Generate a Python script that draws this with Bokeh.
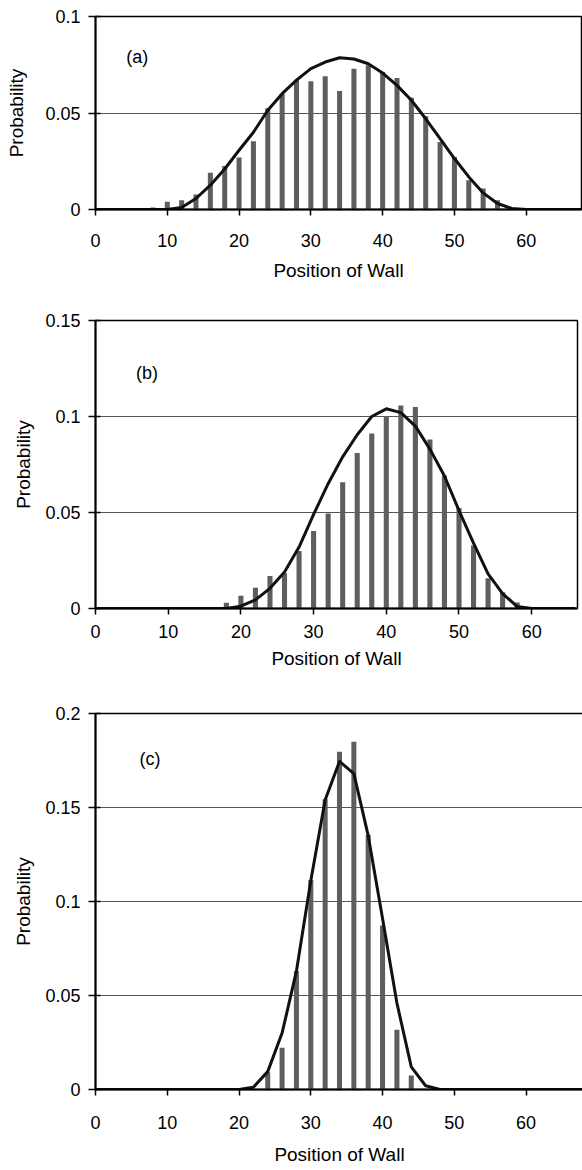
from bokeh.plotting import figure
from bokeh.layouts import column
from bokeh.models import Range1d, FixedTicker, CustomJSTickFormatter, Label
from bokeh.embed import file_html
from bokeh.resources import INLINE

FONT = "Liberation Sans"

# ---- (a) ----
pos_a = [8, 10, 12, 14, 16, 18, 20, 22, 24, 26, 28, 30, 32, 34, 36, 38, 40,
         42, 44, 46, 48, 50, 52, 54, 56]
prob_a = [0.001, 0.004, 0.0048, 0.0078, 0.019, 0.0226, 0.027, 0.0353, 0.0525,
          0.060, 0.0672, 0.0664, 0.0691, 0.0614, 0.0729, 0.0747, 0.0712,
          0.0681, 0.0579, 0.0483, 0.035, 0.0272, 0.0152, 0.0109, 0.0048]
curve_x_a = list(range(0, 70, 2))
curve_a = [0, 0, 0, 0, 0, 0, 0.001, 0.0057, 0.0126, 0.021, 0.0307, 0.040,
           0.0514, 0.060, 0.067, 0.073, 0.0764, 0.0786, 0.078, 0.0755, 0.0707,
           0.0643, 0.0566, 0.047, 0.0367, 0.0264, 0.0169, 0.0086, 0.0031,
           0.0005, 0, 0, 0, 0, 0]

# ---- (b) ----
pos_b = [18, 20, 22, 24, 26, 28, 30, 32, 34, 36, 38, 40, 42, 44, 46, 48, 50,
         52, 54, 56, 58]
prob_b = [0.003, 0.0066, 0.0108, 0.0169, 0.0183, 0.030, 0.0404, 0.0495,
          0.0657, 0.081, 0.0911, 0.1002, 0.1057, 0.1049, 0.088, 0.0693,
          0.0523, 0.0328, 0.0157, 0.0084, 0.0031]
curve_x_b = list(range(0, 68, 2))
curve_b = [0, 0, 0, 0, 0, 0, 0, 0, 0, 0, 0.0012, 0.0045, 0.0105, 0.019,
           0.032, 0.049, 0.065, 0.079, 0.0905, 0.100, 0.104, 0.102, 0.095,
           0.083, 0.069, 0.051, 0.034, 0.018, 0.0078, 0.001, 0, 0, 0, 0]

# ---- (c) ----
pos_c = [24, 26, 28, 30, 32, 34, 36, 38, 40, 42, 44]
prob_c = [0.0092, 0.0222, 0.063, 0.1114, 0.1544, 0.1796, 0.185, 0.1355,
          0.0872, 0.0318, 0.0075]
curve_x_c = list(range(0, 70, 2))
curve_c = [0, 0, 0, 0, 0, 0, 0, 0, 0, 0, 0, 0.0012, 0.0095, 0.030, 0.063,
           0.111, 0.154, 0.1745, 0.168, 0.135, 0.091, 0.046, 0.012, 0.002,
           0, 0, 0, 0, 0, 0, 0, 0, 0, 0, 0]

x_ticks = [0, 10, 20, 30, 40, 50, 60]
y_ticks_a = [0, 0.05, 0.1]
y_ticks_b = [0, 0.05, 0.1, 0.15]
y_ticks_c = [0, 0.05, 0.1, 0.15, 0.2]

BAR_COLOR = "#5e5e5e"
LINE_COLOR = "#111111"


def panel(tag, pos, prob, cx, cy, yticks, xmax, lay):
    p = figure(
        frame_width=lay["fw"], frame_height=lay["fh"],
        min_border_left=lay["left"], min_border_right=lay["right"],
        min_border_top=lay["top"], min_border_bottom=lay["bottom"],
        x_range=Range1d(0, xmax), y_range=Range1d(0, yticks[-1]),
        output_backend="svg", toolbar_location=None,
        background_fill_color="white", border_fill_color="white",
    )
    p.vbar(x=pos, top=prob, width=0.7, bottom=0,
           fill_color=BAR_COLOR, line_color=None)
    p.line(cx, cy, line_width=3, line_color=LINE_COLOR, line_join="round")

    p.xgrid.visible = False
    p.ygrid.grid_line_color = "#555555"
    p.ygrid.grid_line_width = 1
    p.ygrid.ticker = FixedTicker(ticks=yticks)
    p.outline_line_color = "black"
    p.outline_line_width = 1.5

    xa = p.xaxis[0]
    xa.ticker = FixedTicker(ticks=x_ticks)
    xa.axis_label = "Position of Wall"
    xa.major_tick_out = 6
    xa.major_tick_in = 0
    xa.minor_tick_line_color = None
    xa.axis_line_width = 2
    xa.major_tick_line_width = 1.5
    xa.major_label_standoff = lay["xls"]
    xa.axis_label_standoff = lay["xas"]

    ya = p.yaxis[0]
    ya.ticker = FixedTicker(ticks=yticks)
    ya.formatter = CustomJSTickFormatter(
        code="return parseFloat(tick.toFixed(3)).toString();")
    ya.axis_label = "Probability"
    ya.major_tick_out = 7
    ya.major_tick_in = 5
    ya.minor_tick_line_color = None
    ya.axis_line_width = 2
    ya.major_tick_line_width = 1.5
    ya.major_label_standoff = 8
    ya.axis_label_standoff = lay["yas"]

    for ax in (xa, ya):
        ax.axis_line_color = "black"
        ax.major_tick_line_color = "black"
        ax.major_label_text_font = FONT
        ax.major_label_text_font_size = "18px"
        ax.major_label_text_color = "black"
        ax.axis_label_text_font = FONT
        ax.axis_label_text_font_size = "19px"
        ax.axis_label_text_font_style = "normal"
        ax.axis_label_text_color = "black"

    p.add_layout(Label(x=lay["tx"], y=lay["ty"], text=tag,
                       text_font=FONT, text_font_size="18px",
                       text_color="black",
                       text_align="center", text_baseline="middle"))
    return p


pa = panel("(a)", pos_a, prob_a, curve_x_a, curve_a, y_ticks_a, 67.7,
           dict(fw=486, fh=193, left=95, right=1, top=16, bottom=91,
                xls=18, xas=10, yas=15, tx=5.8, ty=0.0789))
pb = panel("(b)", pos_b, prob_b, curve_x_b, curve_b, y_ticks_b, 66.3,
           dict(fw=482, fh=288, left=94, right=6, top=20, bottom=92,
                xls=10, xas=7, yas=8, tx=7.07, ty=0.1228))
pc = panel("(c)", pos_c, prob_c, curve_x_c, curve_c, y_ticks_c, 68.0,
           dict(fw=488, fh=376, left=92, right=2, top=13, bottom=81,
                xls=20, xas=12, yas=8, tx=7.6, ty=0.176))

layout = column(pa, pb, pc, spacing=0)
open("out.html", "w").write(file_html(layout, INLINE))
